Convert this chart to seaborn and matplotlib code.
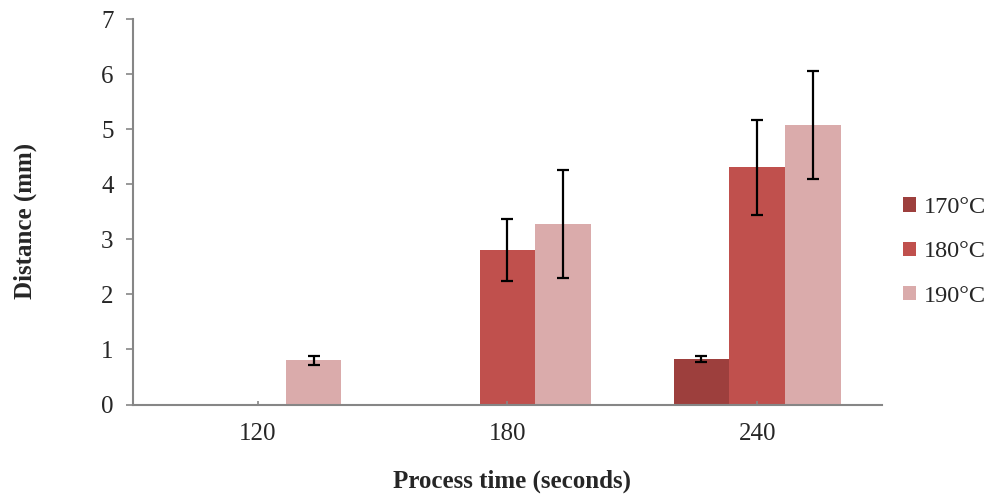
import matplotlib
matplotlib.use("Agg")
import matplotlib.pyplot as plt
import seaborn as sns
import pandas as pd
import numpy as np

# Mean distance and standard deviation per process time and temperature
times = ["120", "180", "240"]
temps = ["170°C", "180°C", "190°C"]
dist_170 = [0.0, 0.0, 0.82]
dist_180 = [0.0, 2.80, 4.31]
dist_190 = [0.80, 3.28, 5.07]
err_170 = [0.0, 0.0, 0.055]
err_180 = [0.0, 0.56, 0.86]
err_190 = [0.08, 0.98, 0.98]
colors = ["#9D3F3D", "#C0504D", "#DAABAB"]

df = pd.DataFrame({
    "time": times * 3,
    "temp": [t for t in temps for _ in times],
    "dist": dist_170 + dist_180 + dist_190,
    "err": err_170 + err_180 + err_190,
})

sns.set_style("white")
plt.rcParams["font.family"] = ["Liberation Serif", "DejaVu Serif"]

fig = plt.figure(figsize=(9.92, 4.96), dpi=100)
ax = fig.add_axes([133 / 992, 1 - 404.5 / 496, 749 / 992, 385.5 / 496])

sns.barplot(data=df, x="time", y="dist", hue="temp", order=times,
            hue_order=temps, palette=colors, width=0.67, errorbar=None,
            saturation=1, edgecolor="none", legend=True, ax=ax)

# Error bars at each bar's centre, taken from the drawn patches
bars = [p for p in ax.patches if p.get_width() > 0][:len(df)]
for p, (_, row) in zip(bars, df.iterrows()):
    if row["err"] > 0:
        ax.errorbar(p.get_x() + p.get_width() / 2, row["dist"], yerr=row["err"],
                    fmt="none", ecolor="black", elinewidth=1.6, capsize=4,
                    capthick=1.6, zorder=5)

ax.set_axisbelow(False)
ax.set_ylim(0, 7)
ax.set_xlim(-0.5, 2.5)
ax.set_yticks(range(0, 8))
ax.tick_params(axis="y", direction="out", length=5, width=1.2, color="#868686",
               labelsize=18, pad=9, left=True)
ax.tick_params(axis="x", direction="in", length=3, width=1.2, color="#868686",
               labelsize=18, pad=13, bottom=True)
for s in ["top", "right"]:
    ax.spines[s].set_visible(False)
for s in ["left", "bottom"]:
    ax.spines[s].set_color("#868686")
    ax.spines[s].set_linewidth(1.5)

ax.set_xlabel("Process time (seconds)", fontsize=18, fontweight="bold")
ax.set_ylabel("Distance (mm)", fontsize=18, fontweight="bold")
ax.xaxis.label.set_va("center")
ax.yaxis.label.set_va("center")
ax.xaxis.set_label_coords(0.506, -0.198)
ax.yaxis.set_label_coords(-0.144, 0.476)

handles, labels = ax.get_legend_handles_labels()
ax.legend_.remove()
fig.legend(handles, labels, loc="center left",
           bbox_to_anchor=(903 / 992, 1 - 252 / 496), frameon=False,
           fontsize=17.5, handlelength=0.55, handleheight=0.55,
           handletextpad=0.3, labelspacing=0.95, borderpad=0, borderaxespad=0)

fig.savefig("out.png", dpi=100)
